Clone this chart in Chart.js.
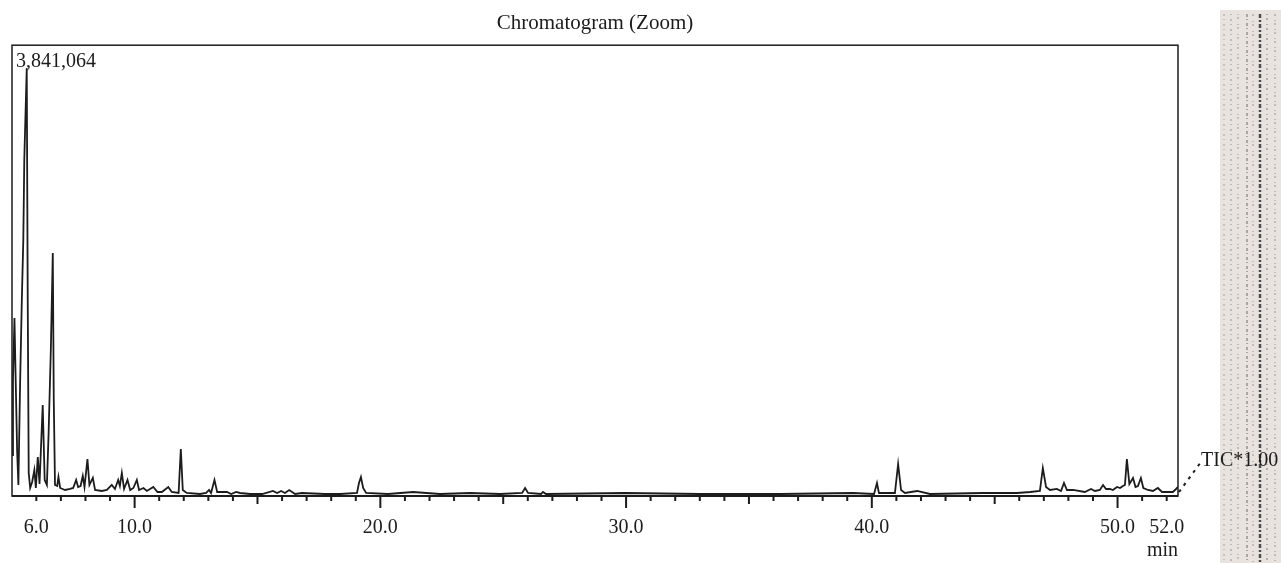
<!DOCTYPE html>
<html>
<head>
<meta charset="utf-8">
<script src="https://cdn.jsdelivr.net/npm/chart.js@4/dist/chart.umd.min.js"></script>
<style>
  html, body { margin: 0; padding: 0; background: #fff; }
  #chart { display: block; }
</style>
</head>
<body>
<canvas id="chart" width="1281" height="563"></canvas>
<script>
// retention time (min) and TIC intensity
const retentionTime = [
  5.01, 5.05, 5.11, 5.16, 5.22, 5.27, 5.34, 5.41, 5.47, 5.51, 5.61, 5.65, 5.69, 5.75, 5.83,
  5.92, 5.98, 6.06, 6.13, 6.26, 6.34, 6.43, 6.50, 6.59, 6.67, 6.71, 6.76, 6.85, 6.90, 6.97,
  7.17, 7.37, 7.50, 7.62, 7.70, 7.80, 7.89, 7.96, 8.08, 8.16, 8.30, 8.39, 8.66, 8.87, 9.07,
  9.20, 9.33, 9.40, 9.48, 9.57, 9.71, 9.82, 9.95, 10.09, 10.18, 10.36, 10.50, 10.76, 10.93, 11.11,
  11.37, 11.51, 11.79, 11.88, 11.96, 12.12, 12.66, 12.91, 13.03, 13.11, 13.25, 13.36, 13.76, 13.93, 14.13,
  14.29, 14.70, 15.19, 15.63, 15.80, 15.96, 16.12, 16.29, 16.53, 16.81, 17.75, 18.36, 19.05, 19.13, 19.21,
  19.30, 19.42, 20.31, 21.33, 22.43, 23.65, 24.87, 25.77, 25.89, 26.01, 26.54, 26.62, 26.74, 29.96, 33.01,
  36.26, 39.23, 40.09, 40.21, 40.29, 40.94, 41.07, 41.19, 41.35, 41.84, 42.37, 44.52, 45.22, 45.91, 46.44,
  46.84, 46.96, 47.09, 47.25, 47.53, 47.70, 47.82, 47.94, 48.19, 48.67, 48.92, 49.08, 49.28, 49.41, 49.53,
  49.69, 49.81, 49.98, 50.10, 50.22, 50.30, 50.38, 50.48, 50.63, 50.73, 50.83, 50.95, 51.05, 51.24, 51.44,
  51.64, 51.81, 52.13, 52.25, 52.38, 52.46
];
const intensity = [
  368000, 1042000, 1598000, 1042000, 395000, 99000, 1015000, 1760000, 2299000, 3017000, 3841064, 1760000, 207000, 72000, 126000,
  233000, 72000, 350000, 108000, 817000, 144000, 99000, 566000, 1311000, 2182000, 862000, 99000, 90000, 171000, 72000,
  54000, 63000, 72000, 144000, 81000, 90000, 180000, 81000, 332000, 99000, 162000, 54000, 45000, 54000, 99000,
  63000, 144000, 90000, 207000, 63000, 144000, 54000, 72000, 144000, 54000, 72000, 45000, 81000, 36000, 36000,
  81000, 36000, 27000, 422000, 54000, 27000, 18000, 27000, 54000, 27000, 144000, 36000, 36000, 18000, 36000,
  27000, 18000, 18000, 45000, 27000, 45000, 27000, 54000, 18000, 27000, 18000, 18000, 27000, 117000, 171000,
  72000, 27000, 18000, 36000, 18000, 27000, 18000, 27000, 72000, 27000, 18000, 36000, 18000, 27000, 18000,
  18000, 27000, 18000, 117000, 27000, 27000, 287000, 54000, 27000, 45000, 18000, 27000, 27000, 27000, 36000,
  45000, 251000, 81000, 54000, 63000, 45000, 117000, 54000, 54000, 36000, 63000, 45000, 54000, 99000, 63000,
  63000, 54000, 81000, 72000, 90000, 99000, 332000, 108000, 162000, 81000, 90000, 162000, 72000, 54000, 45000,
  72000, 36000, 36000, 36000, 63000, 81000
];

const tickValues = [6, 10, 20, 30, 40, 50, 52];
const tickLabels = ['6.0', '10.0', '20.0', '30.0', '40.0', '50.0', '52.0'];
const X_MIN = 5.01;
const X_MAX = 52.46;
const Y_MAX = 4047000;
const peakLabel = '3,841,064';
const traceLabel = 'TIC*1.00';

const SERIF = '"Liberation Serif", "DejaVu Serif", serif';
const INK = '#1c1c1c';

// frame, tick marks, corner labels and the scanned strip on the right
const decorPlugin = {
  id: 'decor',
  afterDraw(chart) {
    const ctx = chart.ctx;
    const area = chart.chartArea;
    const xs = chart.scales.x;
    ctx.save();

    // scanned strip
    ctx.fillStyle = '#e9e3e0';
    ctx.fillRect(1220, 10, 61, 553);
    ctx.lineCap = 'butt';
    const streaks = [
      { x: 1224, c: '#c8c2bc', w: 2, d: [2, 3, 1, 4] },
      { x: 1231, c: '#b8c0b4', w: 2, d: [1, 4, 2, 3] },
      { x: 1238, c: '#c4bcb8', w: 2, d: [1, 2, 2, 5] },
      { x: 1247, c: '#a9a59f', w: 2, d: [3, 2, 1, 3] },
      { x: 1253, c: '#c9b9bd', w: 2, d: [2, 5, 1, 2] },
      { x: 1260, c: '#4a4c4e', w: 2.5, d: [4, 2, 2, 2] },
      { x: 1267, c: '#b6b0ab', w: 2, d: [1, 3, 2, 4] },
      { x: 1275, c: '#c2bbb7', w: 2, d: [2, 4, 1, 2] }
    ];
    streaks.forEach(s => {
      ctx.strokeStyle = s.c;
      ctx.lineWidth = s.w;
      ctx.setLineDash(s.d);
      ctx.beginPath();
      ctx.moveTo(s.x, 14);
      ctx.lineTo(s.x, 563);
      ctx.stroke();
    });
    ctx.setLineDash([]);

    // plot frame
    ctx.strokeStyle = INK;
    ctx.lineWidth = 1.5;
    ctx.strokeRect(area.left, area.top, area.right - area.left, area.bottom - area.top);
    ctx.lineWidth = 2;
    ctx.beginPath();
    ctx.moveTo(area.left, area.bottom);
    ctx.lineTo(area.right, area.bottom);
    ctx.stroke();

    // tick marks: every minute, longer at 5 and 10
    for (let v = Math.ceil(X_MIN); v <= Math.floor(X_MAX); v++) {
      const len = v % 10 === 0 ? 12 : (v % 5 === 0 ? 8 : 5);
      const px = xs.getPixelForValue(v);
      ctx.beginPath();
      ctx.moveTo(px, area.bottom);
      ctx.lineTo(px, area.bottom + len);
      ctx.stroke();
    }

    // labels
    ctx.fillStyle = INK;
    ctx.font = '20px ' + SERIF;
    ctx.textAlign = 'left';
    ctx.textBaseline = 'alphabetic';
    ctx.fillText(peakLabel, area.left + 4, area.top + 22);

    ctx.setLineDash([3, 5]);
    ctx.lineWidth = 2;
    ctx.beginPath();
    ctx.moveTo(area.right + 1, area.bottom - 4);
    ctx.lineTo(1201, 462);
    ctx.stroke();
    ctx.setLineDash([]);
    ctx.fillText(traceLabel, 1201, 466);

    ctx.restore();
  }
};

const points = retentionTime.map((t, i) => ({ x: t, y: intensity[i] }));

new Chart(document.getElementById('chart'), {
  type: 'scatter',
  data: {
    datasets: [{
      data: points,
      showLine: true,
      borderColor: INK,
      borderWidth: 1.8,
      pointRadius: 0,
      tension: 0
    }]
  },
  options: {
    responsive: false,
    animation: false,
    layout: { padding: { left: 12, right: 103, top: 0, bottom: 0 } },
    plugins: {
      legend: { display: false },
      tooltip: { enabled: false },
      title: {
        display: true,
        text: 'Chromatogram (Zoom)',
        fullSize: false,
        color: INK,
        font: { family: SERIF, size: 21, weight: 'normal' },
        padding: { top: 11, bottom: 9 }
      }
    },
    scales: {
      x: {
        type: 'linear',
        min: X_MIN,
        max: X_MAX,
        grid: { display: false },
        border: { display: false },
        afterBuildTicks: scale => {
          scale.ticks = tickValues.map(v => ({ value: v }));
        },
        afterFit: scale => { scale.height = 67; },
        ticks: {
          autoSkip: false,
          maxRotation: 0,
          padding: 12,
          color: INK,
          font: { family: SERIF, size: 20 },
          callback: value => tickLabels[tickValues.indexOf(value)] || ''
        },
        title: {
          display: true,
          text: 'min',
          align: 'end',
          color: INK,
          font: { family: SERIF, size: 20 },
          padding: { top: -3, bottom: 0 }
        }
      },
      y: {
        display: false,
        min: 0,
        max: Y_MAX
      }
    }
  },
  plugins: [decorPlugin]
});
</script>
</body>
</html>
